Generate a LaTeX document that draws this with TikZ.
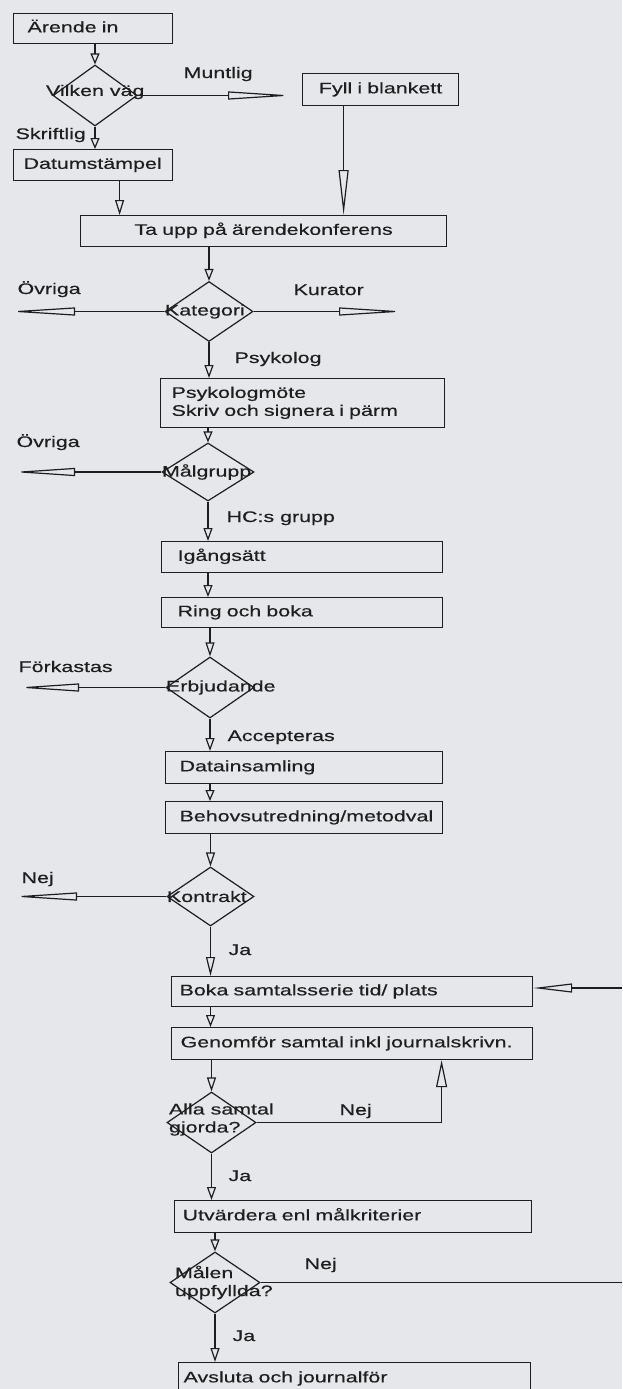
\documentclass[tikz,border=0pt]{standalone}
\usepackage{fontspec}
\setmainfont{Liberation Sans}[FakeStretch=1.4, FakeBold=0.35]
\usetikzlibrary{shapes.geometric,arrows.meta}
\definecolor{paper}{RGB}{230,231,234}
\definecolor{ink}{RGB}{30,30,30}
\tikzset{
  box/.style={draw, rectangle, anchor=north west, inner ysep=0pt, align=left, text height=11pt, text depth=3.5pt},
  dec/.style={draw, diamond, inner sep=0pt},
  dtext/.style={anchor=west, inner sep=0pt, align=left},
  lbl/.style={anchor=west, inner sep=0pt, text height=11pt, text depth=3pt},
  arr/.style={-{Triangle[open, length=#1, width=9pt]}},
  arr/.default=12pt,
  farr/.style={-{Triangle[open, length=#1, width=8pt]}},
  farr/.default=64pt
}

\begin{document}
\begin{tikzpicture}[x=1pt, y=1pt, yscale=-1, line width=1.2pt, color=ink,
  font=\fontsize{15.3}{18}\selectfont]
\fill[paper] (0,0) rectangle (622,1389);
\useasboundingbox (0,0) rectangle (622,1389);
\clip (0,0) rectangle (622,1389);

% boxes
\node[box, text width=131pt, inner xsep=14pt, minimum height=30pt] (arende) at (13,13) {Ärende in};
\node[box, text width=136pt, inner xsep=10pt, minimum height=32pt, align=center] (fyll) at (302,73) {Fyll i blankett};
\node[box, text width=139pt, inner xsep=10pt, minimum height=31pt] (datum) at (13,149) {Datumstämpel};
\node[box, text width=346pt, inner xsep=10pt, minimum height=31pt, align=center] (taupp) at (80,215) {Ta upp på ärendekonferens};
\node[box, text width=262pt, inner xsep=11pt, minimum height=49pt, text depth=21.5pt] (psyk) at (160,378) {Psykologmöte\\Skriv och signera i pärm};
\node[box, text width=249pt, inner xsep=16pt, minimum height=31pt] (igang) at (161,541) {Igångsätt};
\node[box, text width=249pt, inner xsep=16pt, minimum height=30pt] (ring) at (161,597) {Ring och boka};
\node[box, text width=249pt, inner xsep=14pt, minimum height=32pt] (data) at (165,751) {Datainsamling};
\node[box, text width=249pt, inner xsep=14pt, minimum height=32pt] (behov) at (165,801) {Behovsutredning/metodval};
\node[box, text width=345pt, inner xsep=8pt, minimum height=30pt] (boka) at (171,976) {Boka samtalsserie tid/ plats};
\node[box, text width=343pt, inner xsep=9pt, minimum height=32pt] (genomfor) at (171,1027) {Genomför samtal inkl journalskrivn.};
\node[box, text width=341pt, inner xsep=8pt, minimum height=32pt] (utv) at (174,1200) {Utvärdera enl målkriterier};
\node[box, text width=342pt, inner xsep=5pt, minimum height=32pt] (avsluta) at (178,1362) {Avsluta och journalför};

% decisions
\node[dec, minimum width=84pt, minimum height=61pt] (vilken) at (95,95.5) {};
\node[dec, minimum width=88pt, minimum height=60pt] (kategori) at (209,311.5) {};
\node[dec, minimum width=92pt, minimum height=58pt] (malgrupp) at (208,472) {};
\node[dec, minimum width=88pt, minimum height=61pt] (erbj) at (210,687.5) {};
\node[dec, minimum width=87pt, minimum height=59pt] (kontrakt) at (210.5,896.5) {};
\node[dec, minimum width=89pt, minimum height=61pt] (alla) at (211.5,1122.5) {};
\node[dec, minimum width=90pt, minimum height=61pt] (malen) at (215,1282.5) {};

\node[dtext] (vilkentxt) at ([xshift=-7pt, yshift=-3.5pt]vilken.west) {Vilken väg};
\node[dtext] (kategoritxt) at (kategori.west) {Kategori};
\node[dtext] (malgrupptxt) at (malgrupp.west) {Målgrupp};
\node[dtext] (erbjtxt) at (erbj.west) {Erbjudande};
\node[dtext] (kontrakttxt) at (kontrakt.west) {Kontrakt};
\node[dtext] (allatxt) at ([xshift=2pt, yshift=-3pt]alla.west) {Alla samtal\\gjorda?};
\node[dtext] (malentxt) at ([xshift=5pt]malen.west) {Målen\\uppfyllda?};

% branch labels
\node[lbl] (muntlig) at (183,74) {Muntlig};
\node[lbl] (skriftlig) at (15,135) {Skriftlig};
\node[lbl] (ovriga1) at (17,290) {Övriga};
\node[lbl] (kurator) at (293,291) {Kurator};
\node[lbl] (psykolog) at (234,359) {Psykolog};
\node[lbl] (ovriga2) at (16,443) {Övriga};
\node[lbl] (hcgrupp) at (226,518) {HC:s grupp};
\node[lbl] (forkastas) at (18,668) {Förkastas};
\node[lbl] (accepteras) at (227,737) {Accepteras};
\node[lbl] (nej1) at (21,879) {Nej};
\node[lbl] (ja1) at (228,951) {Ja};
\node[lbl] (nej2) at (339,1111) {Nej};
\node[lbl] (ja2) at (228,1177) {Ja};
\node[lbl] (nej3) at (304,1265) {Nej};
\node[lbl] (ja3) at (232,1337) {Ja};

% free ends
\coordinate (ovriga1end) at (8,311.5);
\coordinate (kuratorend) at (405,311.5);
\coordinate (ovriga2end) at (12,472);
\coordinate (forkastasend) at (17,687.5);
\coordinate (nej1end) at (12,896.5);
\coordinate (retur) at (622,988);
\coordinate (malenend) at (622,1282.5);

% connectors
\draw[arr=11pt] (vilken.north |- arende.south) -- (vilken.north);
\draw[farr=65pt, shorten >=9pt] (vilken.east) -- (vilken.east -| fyll.west);
\draw[arr=11pt] (vilken.south) -- (vilken.south |- datum.north);
\draw[arr=15pt] ([xshift=26.5pt]datum.south) -- ([xshift=26.5pt]datum.south |- taupp.north);
\draw[-{Triangle[open, length=45pt, width=10pt]}] ([xshift=-37pt]fyll.south) -- ([xshift=-37pt]fyll.south |- taupp.north);
\draw[arr] (kategori.north |- taupp.south) -- (kategori.north);
\draw[farr=67pt] (kategori.west) -- (ovriga1end);
\draw[farr=66pt] (kategori.east) -- (kuratorend);
\draw[arr=13pt] (kategori.south) -- (kategori.south |- psyk.north);
\draw[arr=11pt] (malgrupp.north |- psyk.south) -- (malgrupp.north);
\draw[farr=63pt] (malgrupp.west) -- (ovriga2end);
\draw[arr=13pt] (malgrupp.south) -- (malgrupp.south |- igang.north);
\draw[arr] (malgrupp.south |- igang.south) -- (malgrupp.south |- ring.north);
\draw[arr=14pt] (erbj.north |- ring.south) -- (erbj.north);
\draw[farr=62pt] (erbj.west) -- (forkastasend);
\draw[arr=13pt] (erbj.south) -- (erbj.south |- data.north);
\draw[arr=11pt] (erbj.south |- data.south) -- (erbj.south |- behov.north);
\draw[arr=14pt] (kontrakt.north |- behov.south) -- (kontrakt.north);
\draw[farr=65pt] (kontrakt.west) -- (nej1end);
\draw[arr=19pt] (kontrakt.south) -- (kontrakt.south |- boka.north);
\draw[arr=39pt] (retur) -- (retur -| boka.east);
\draw[arr] (kontrakt.south |- boka.south) -- (kontrakt.south |- genomfor.north);
\draw[arr=14pt] (alla.north |- genomfor.south) -- (alla.north);
\draw[-{Triangle[open, length=27pt, width=11pt]}] (alla.east) -| ([xshift=89.5pt]genomfor.south);
\draw[arr=13pt] (alla.south) -- (alla.south |- utv.north);
\draw[arr] (malen.north |- utv.south) -- (malen.north);
\draw (malen.east) -- (malenend);
\draw[arr=14pt] (malen.south) -- (malen.south |- avsluta.north);
\end{tikzpicture}
\end{document}
